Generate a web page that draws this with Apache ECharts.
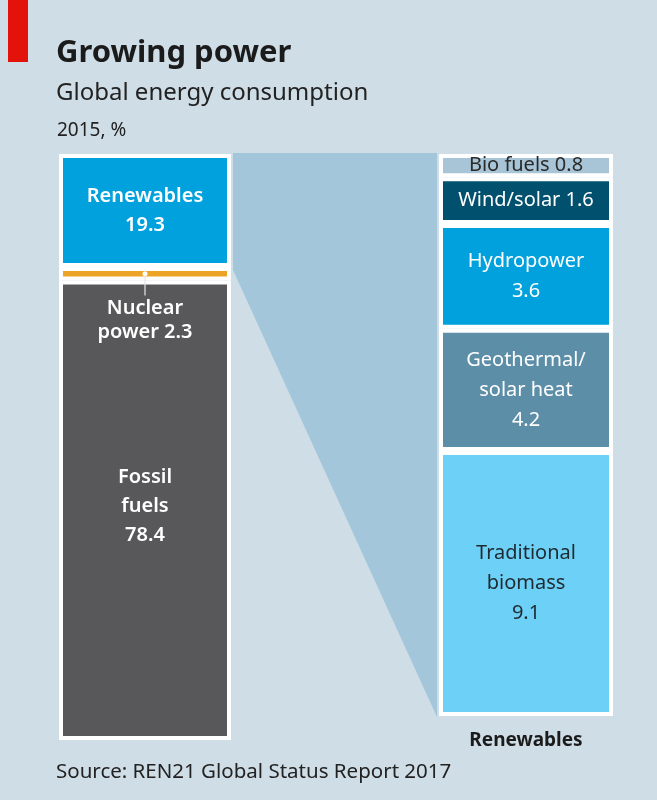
<!DOCTYPE html>
<html>
<head>
<meta charset="utf-8">
<script src="https://cdn.jsdelivr.net/npm/echarts@6/dist/echarts.min.js"></script>
<style>
html,body{margin:0;padding:0;background:#cfdde6;}
#c{width:657px;height:800px;}
</style>
</head>
<body>
<div id="c"></div>
<script>
// ---- data ----
const leftNames = ['Renewables', 'Nuclear\npower', 'Fossil\nfuels'];
const leftValues = [19.3, 2.3, 78.4];
const leftColors = ['#00a1dc', '#eda325', '#58585a'];

const rightNames = ['Bio fuels', 'Wind/solar', 'Hydropower', 'Geothermal/\nsolar heat', 'Traditional\nbiomass'];
const rightValues = [0.8, 1.6, 3.6, 4.2, 9.1];
const rightColors = ['#a7c5d6', '#00506e', '#00a1dc', '#5d8ea8', '#6dd0f6'];
const rightTextColors = ['#2a2a2a', '#ffffff', '#ffffff', '#ffffff', '#1f2a30'];
const rightSep = [' ', ' ', '\n', '\n', '\n'];
const rightCategory = ['Renewables'];

const FONT = '"Noto Sans", sans-serif';
const chart = echarts.init(document.getElementById('c'), null, {renderer: 'canvas', width: 657, height: 800});

const leftTotal = leftValues.reduce((a, b) => a + b, 0);
const rightTotal = rightValues.reduce((a, b) => a + b, 0);

const series = [];
leftValues.forEach((v, i) => {
  const isNuc = i === 1;
  series.push({
    type: 'bar', name: leftNames[i], xAxisIndex: 0, yAxisIndex: 0, stack: 'L',
    barWidth: '100%', data: [v],
    itemStyle: {color: leftColors[i], borderColor: '#ffffff', borderWidth: 4},
    label: {
      show: true,
      position: isNuc ? 'bottom' : 'inside',
      distance: isNuc ? 16 : 5,
      offset: i === 2 ? [0, -4] : [0, 0],
      formatter: (isNuc ? leftNames[i] + ' ' : leftNames[i] + '\n') + v,
      color: '#ffffff', fontFamily: FONT, fontSize: 20, fontWeight: 600,
      lineHeight: isNuc ? 24 : 29
    }
  });
});
rightValues.forEach((v, i) => {
  series.push({
    type: 'bar', name: rightNames[i], xAxisIndex: 1, yAxisIndex: 1, stack: 'R',
    barWidth: '100%', data: [v],
    itemStyle: {color: rightColors[i], borderColor: '#ffffff', borderWidth: 4},
    label: {
      show: true, position: 'inside',
      formatter: rightNames[i] + rightSep[i] + v,
      color: rightTextColors[i], fontFamily: FONT, fontSize: 20, fontWeight: 'normal',
      lineHeight: 30
    }
  });
});

chart.setOption({
  animation: false,
  backgroundColor: '#cfdde6',
  title: [
    {text: 'Growing power', left: 56, top: 38, padding: 0, textStyle: {fontFamily: FONT, fontSize: 31, fontWeight: 'bold', color: '#1b1b1b'}},
    {text: 'Global energy consumption', left: 56, top: 81, padding: 0, textStyle: {fontFamily: FONT, fontSize: 24, fontWeight: 'normal', color: '#222222'}},
    {text: '2015, %', left: 57, top: 121, padding: 0, textStyle: {fontFamily: FONT, fontSize: 19, fontWeight: 'normal', color: '#222222'}},
    {text: 'Source: REN21 Global Status Report 2017', left: 56, top: 762, padding: 0, textStyle: {fontFamily: FONT, fontSize: 20.5, fontWeight: 'normal', color: '#222222'}}
  ],
  grid: [
    {left: 59, top: 154, width: 172, height: 586},
    {left: 439, top: 154, width: 174, height: 562}
  ],
  xAxis: [
    {type: 'category', gridIndex: 0, data: ['Total'], show: false},
    {type: 'category', gridIndex: 1, data: rightCategory,
      axisLine: {show: false}, axisTick: {show: false},
      axisLabel: {margin: 15, fontFamily: FONT, fontSize: 19, fontWeight: 'bold', color: '#1b1b1b'}}
  ],
  yAxis: [
    {type: 'value', gridIndex: 0, min: 0, max: leftTotal, inverse: true, show: false},
    {type: 'value', gridIndex: 1, min: 0, max: rightTotal, inverse: true, show: false}
  ],
  series: series
});

// connector polygon and nuclear leader line derived from the axes
const gL = chart.getModel().getComponent('grid', 0).coordinateSystem.getRect();
const gR = chart.getModel().getComponent('grid', 1).coordinateSystem.getRect();
const yL = v => chart.convertToPixel({yAxisIndex: 0}, v);
const yR = v => chart.convertToPixel({yAxisIndex: 1}, v);
const xLr = gL.x + gL.width + 2;
const xRl = gR.x - 2;
const cx = gL.x + gL.width / 2;
const nucMid = yL(leftValues[0] + leftValues[1] / 2);
const nucEnd = yL(leftValues[0] + leftValues[1]);

chart.setOption({
  graphic: [
    {type: 'polygon', z: -1, shape: {points: [
      [xLr, yL(0) - 1], [xRl, yR(0) - 1], [xRl, yR(rightTotal) + 1], [xLr, yL(leftValues[0]) + 3]
    ]}, style: {fill: '#a3c6da'}},
    {type: 'rect', shape: {x: 8, y: 0, width: 20, height: 62}, style: {fill: '#e3120b'}},
    {type: 'line', z: 10, shape: {x1: cx, y1: nucMid, x2: cx, y2: nucEnd + 15}, style: {stroke: '#e6e6e6', lineWidth: 1.2}},
    {type: 'circle', z: 10, shape: {cx: cx, cy: nucMid, r: 2.5}, style: {fill: '#ffffff'}}
  ]
});
</script>
</body>
</html>
